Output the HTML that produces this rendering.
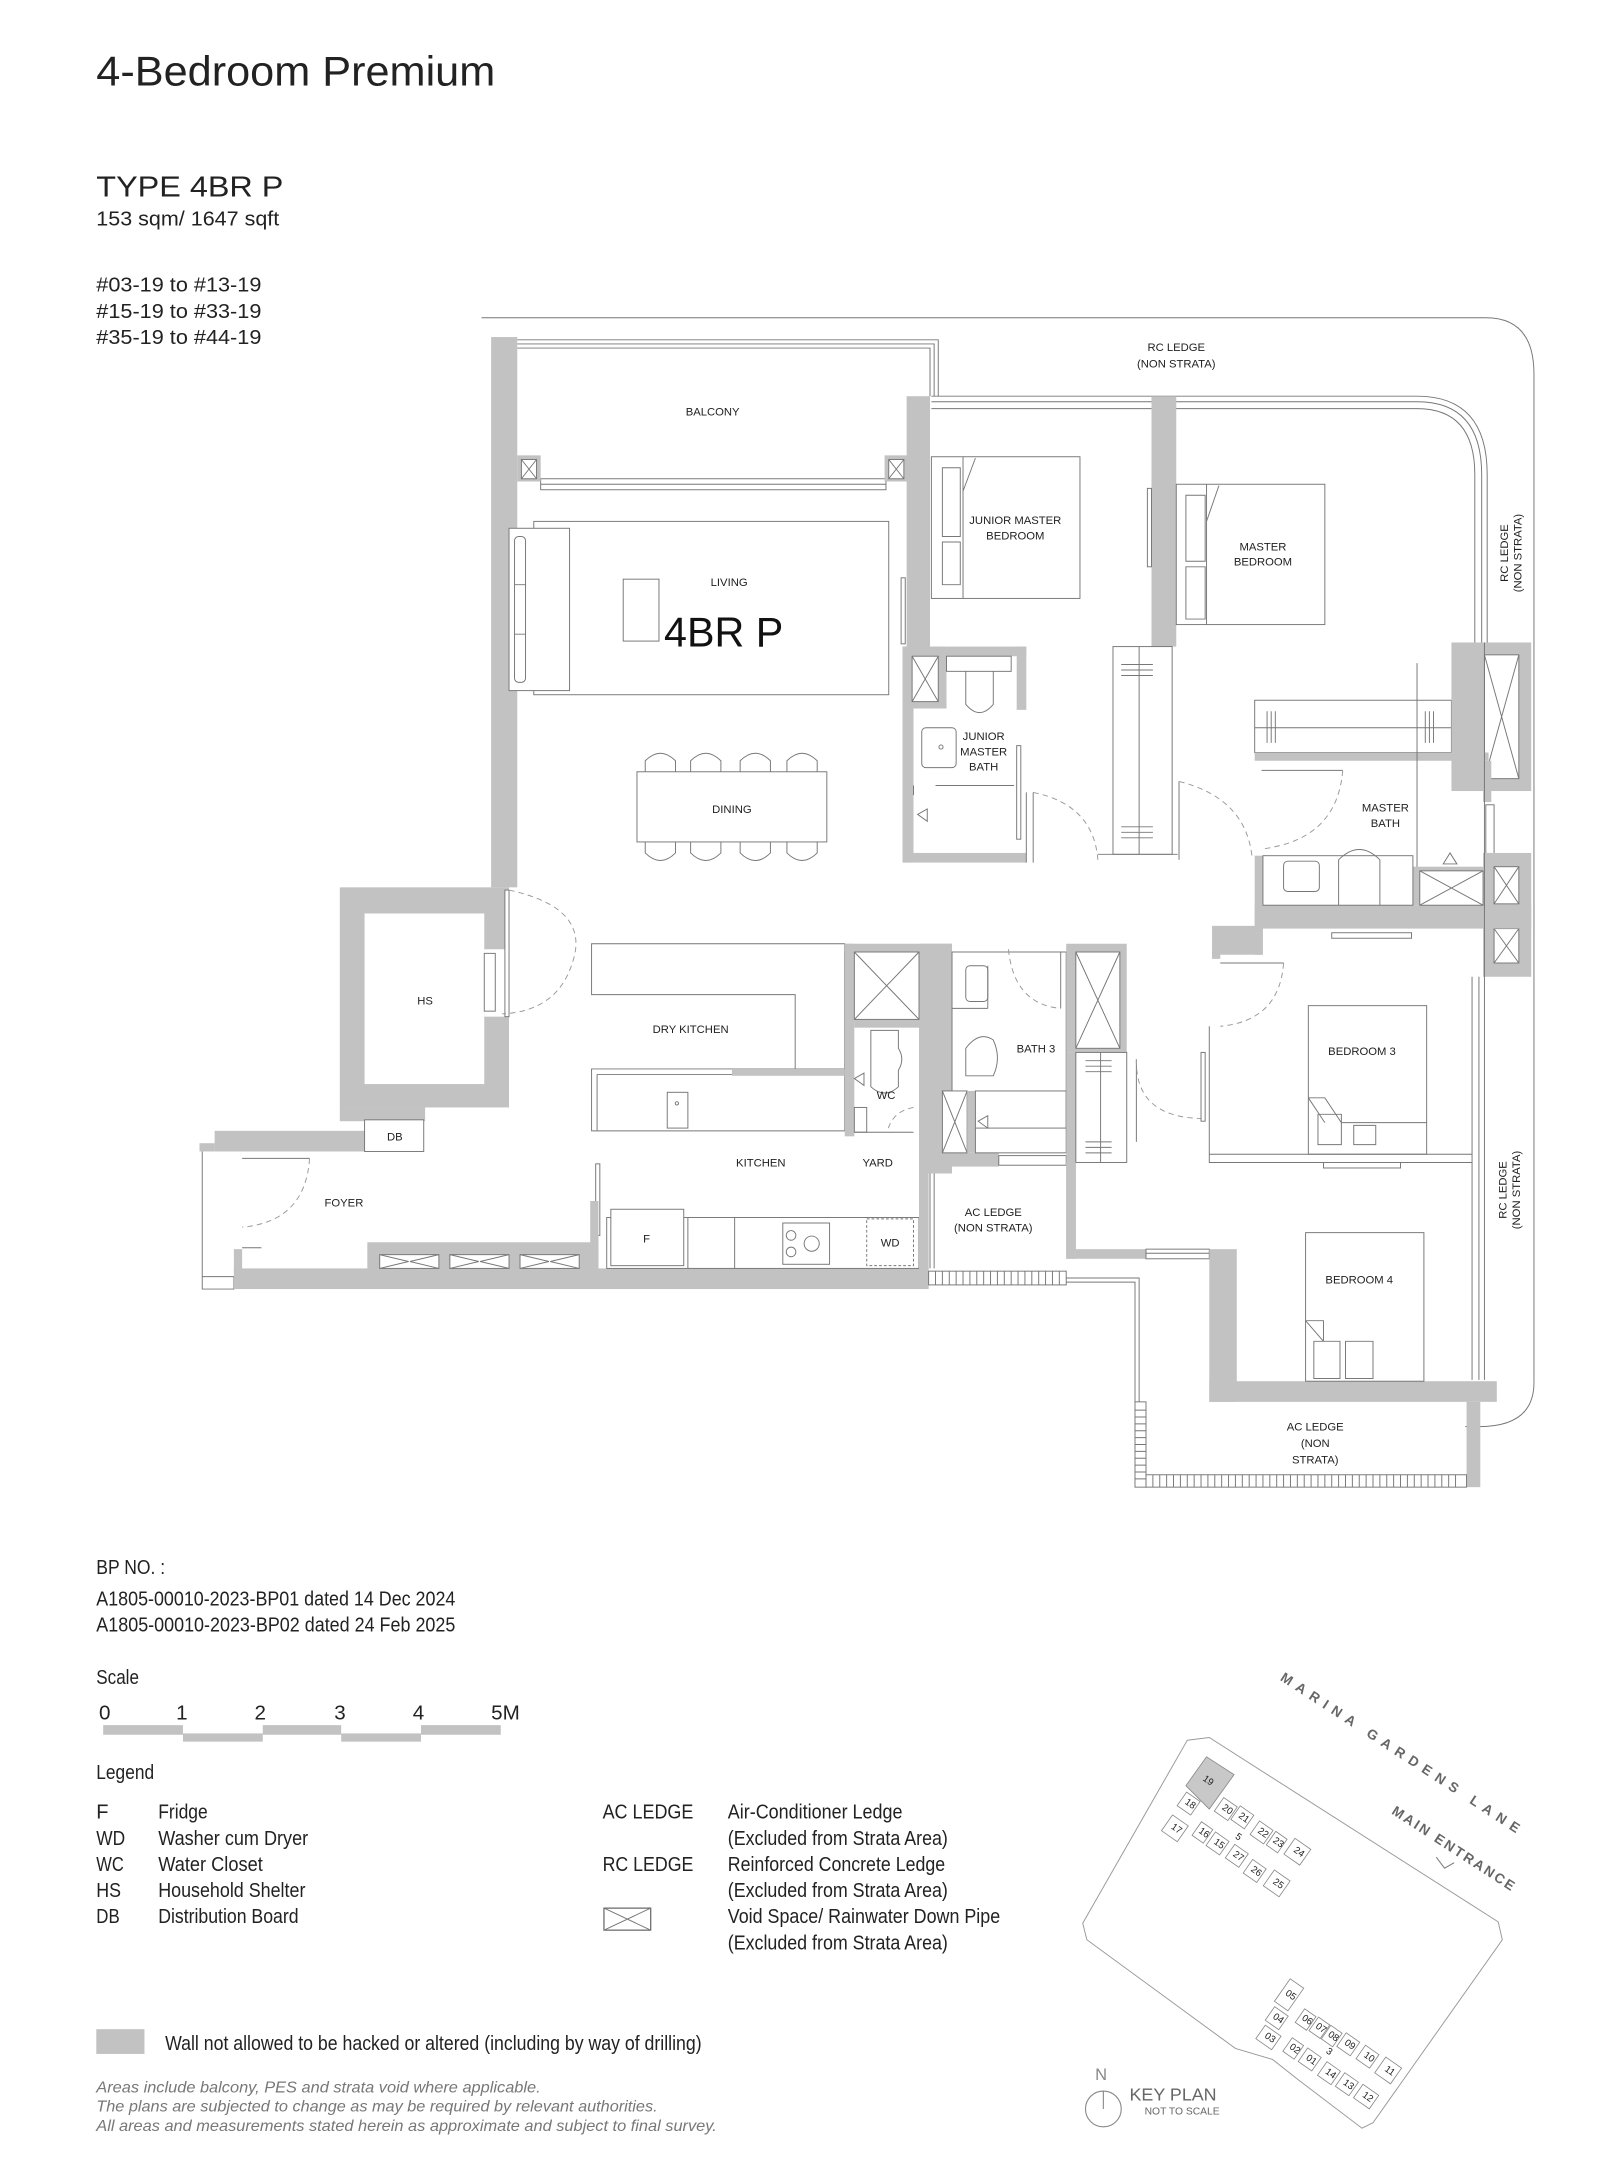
<!DOCTYPE html>
<html><head><meta charset="utf-8"><style>
html,body{margin:0;padding:0;background:#fff;}
svg{display:block;}
text{font-family:"Liberation Sans Narrow","Liberation Sans",sans-serif;fill:#222;}
.rl{font-size:8.2px;text-anchor:middle;}
.g{fill:#c2c2c2;stroke:none;}
.l{fill:none;stroke:#777;stroke-width:0.7;}
.lw{fill:#fff;stroke:#777;stroke-width:0.7;}
.d{fill:none;stroke:#999;stroke-width:0.7;stroke-dasharray:4 3;}
.kp{font-size:7px;fill:#444;text-anchor:middle;}
</style></head><body>
<svg width="1600" height="2164" viewBox="0 0 1163 1573" preserveAspectRatio="none" xmlns="http://www.w3.org/2000/svg">
<!-- Header -->
<text x="70" y="62" textLength="290" lengthAdjust="spacingAndGlyphs" style="font-family:'Liberation Sans',sans-serif;font-size:30px">4-Bedroom Premium</text>
<text x="70" y="143" textLength="136" lengthAdjust="spacingAndGlyphs" style="font-family:'Liberation Sans',sans-serif;font-size:21px">TYPE 4BR P</text>
<text x="70" y="164" textLength="133" lengthAdjust="spacingAndGlyphs" style="font-size:15px">153 sqm/ 1647 sqft</text>
<text x="70" y="212" textLength="120" lengthAdjust="spacingAndGlyphs" style="font-size:15px">#03-19 to #13-19</text>
<text x="70" y="231" textLength="120" lengthAdjust="spacingAndGlyphs" style="font-size:15px">#15-19 to #33-19</text>
<text x="70" y="250" textLength="120" lengthAdjust="spacingAndGlyphs" style="font-size:15px">#35-19 to #44-19</text>

<!-- outer RC ledge line -->
<path class="l" d="M350 231 H1080 Q1115 231 1115 272 V1005 Q1115 1037 1075 1037 H1065" />

<!-- Balcony rails -->
<path class="l" d="M376 247 H682 V288 M376 250 H679 V288 M376 253 H676 V288"/>
<rect class="lw" x="393" y="348" width="251" height="8"/>
<line class="l" x1="393" y1="352" x2="644" y2="352"/>
<rect class="g" x="357" y="245" width="19" height="400"/>
<rect class="g" x="376" y="331" width="17" height="19"/><rect class="lw" x="379" y="334" width="11" height="14"/>
<path class="l" d="M379 334 L390 348 M390 334 L379 348"/>
<rect class="g" x="643" y="331" width="17" height="19"/><rect class="lw" x="646" y="334" width="11" height="14"/>
<path class="l" d="M646 334 L657 348 M657 334 L646 348"/>
<text class="rl" x="518" y="302">BALCONY</text>
<text class="rl" x="855" y="255">RC LEDGE</text>
<text class="rl" x="855" y="267">(NON STRATA)</text>

<!-- top rails bedroom -->
<path class="l" d="M677 288 H1030 Q1081 288 1081 345 V467 M677 292 H1030 Q1077 292 1077 345 V467 M677 297 H1030 Q1072 297 1072 345 V467"/>
<text class="rl" transform="translate(1096 402) rotate(-90)">RC LEDGE</text>
<text class="rl" transform="translate(1106 402) rotate(-90)">(NON STRATA)</text>

<!-- columns -->
<rect class="g" x="659" y="288" width="17" height="182"/>
<rect class="g" x="837" y="288" width="18" height="182"/>
<rect class="lw" x="834" y="355" width="3" height="57"/>
<rect class="lw" x="655" y="420" width="3" height="48"/>

<!-- Living -->
<rect class="l" x="388" y="379" width="258" height="126"/>
<rect class="lw" x="370" y="384" width="44" height="118"/>
<rect class="l" x="374" y="390" width="8" height="106" rx="3"/>
<path class="l" d="M374 425 H382 M374 461 H382"/>
<rect class="l" x="453" y="421" width="26" height="45"/>
<text class="rl" x="530" y="426">LIVING</text>
<text x="526" y="470" style="font-family:'Liberation Sans',sans-serif;font-size:30px;text-anchor:middle;fill:#111">4BR P</text>

<!-- JM bedroom -->
<rect class="l" x="677" y="332" width="108" height="103"/>
<path class="l" d="M700 332 V435 M700 357 L709 333 M685 340 H698 V390 H685 Z M685 394 H698 V425 H685 Z"/>
<text class="rl" x="738" y="381">JUNIOR MASTER</text>
<text class="rl" x="738" y="392">BEDROOM</text>
<!-- Master bedroom -->
<rect class="l" x="855" y="352" width="108" height="102"/>
<path class="l" d="M877 352 V454 M877 379 L886 353 M862 360 H876 V408 H862 Z M862 412 H876 V450 H862 Z"/>
<text class="rl" x="918" y="400">MASTER</text>
<text class="rl" x="918" y="411">BEDROOM</text>

<!-- JM bath -->
<rect class="g" x="656" y="470" width="8" height="157"/>
<rect class="g" x="656" y="470" width="90" height="7"/>
<rect class="g" x="739" y="470" width="7" height="46"/>
<rect class="g" x="656" y="620" width="90" height="7"/>
<rect class="g" x="656" y="470" width="32" height="45"/>
<rect class="lw" x="663" y="477" width="19" height="33"/>
<path class="l" d="M663 477 L682 510 M682 477 L663 510"/>
<rect class="lw" x="688" y="477" width="47" height="11"/>
<path class="l" d="M702 488 V512 Q712 524 722 512 V488"/>
<rect class="lw" x="670" y="529" width="25" height="29" rx="3"/>
<circle class="l" cx="684" cy="543" r="1.5"/>
<path class="l" d="M680 571 H737 M664 571 V578"/>
<path class="l" d="M667 592 L674 588 L674 597 Z"/>
<text class="rl" x="715" y="538">JUNIOR</text>
<text class="rl" x="715" y="549">MASTER</text>
<text class="rl" x="715" y="560">BATH</text>
<rect class="lw" x="739" y="542" width="3" height="68"/>
<path class="l" d="M746 576 V627 M751 576 V627"/>
<path class="d" d="M751 576 Q795 585 798 625"/>
<!-- wardrobe JM -->
<rect class="l" x="809" y="470" width="43" height="151"/>
<path class="l" d="M828 470 V621 M815 483 H838 M815 487 H838 M815 491 H838 M815 601 H838 M815 605 H838 M815 609 H838"/>
<path class="l" d="M798 621 H856"/>
<path class="l" d="M857 568 V625"/>
<path class="d" d="M857 568 Q905 580 910 622"/>

<!-- Master wardrobe & right column -->
<rect class="l" x="912" y="509" width="143" height="38"/>
<path class="l" d="M912 529 H1055 M921 517 V540 M924 517 V540 M927 517 V540 M1036 517 V540 M1039 517 V540 M1042 517 V540"/>
<rect class="g" x="1055" y="467" width="58" height="108"/>
<rect class="lw" x="1079" y="476" width="25" height="90"/>
<path class="l" d="M1079 476 L1104 566 M1104 476 L1079 566"/>
<rect class="g" x="912" y="547" width="170" height="6"/>
<!-- Master bath -->
<rect class="g" x="1078" y="553" width="6" height="30"/>
<rect class="lw" x="1080" y="585" width="6" height="40"/>
<rect class="g" x="1078" y="620" width="35" height="90"/>
<rect class="lw" x="1086" y="630" width="18" height="27"/>
<path class="l" d="M1086 630 L1104 657 M1104 630 L1086 657"/>
<rect class="lw" x="1086" y="675" width="18" height="25"/>
<path class="l" d="M1086 675 L1104 700 M1104 675 L1086 700"/>
<rect class="g" x="912" y="622" width="6" height="72"/>
<rect class="g" x="912" y="658" width="201" height="17"/>
<rect class="g" x="1027" y="630" width="51" height="28"/>
<rect class="lw" x="1032" y="633" width="46" height="25"/>
<path class="l" d="M1032 633 L1078 658 M1078 633 L1032 658"/>
<rect class="l" x="918" y="622" width="109" height="36"/>
<rect class="l" x="933" y="626" width="26" height="22" rx="3"/>
<path class="l" d="M973 658 V625 Q988 610 1003 625 V658"/>
<path class="l" d="M1030 482 V630 M917 560 H976"/>
<path class="d" d="M976 560 Q972 610 918 617"/>
<path class="l" d="M1049 628 L1054 620 L1059 628 Z"/>
<text class="rl" x="1007" y="590">MASTER</text>
<text class="rl" x="1007" y="601">BATH</text>
<rect class="g" x="881" y="673" width="36" height="21"/>
<rect class="g" x="881" y="689" width="6" height="8"/>
<path class="l" d="M887 700 H933"/>
<path class="d" d="M933 700 Q930 742 887 746"/>
<rect class="lw" x="968" y="678" width="58" height="4"/>
<path class="l" d="M1070 710 V1003 M1075 710 V1003 M1079 467 V1003"/>
<text class="rl" transform="translate(1095 865) rotate(-90)">RC LEDGE</text>
<text class="rl" transform="translate(1105 865) rotate(-90)">(NON STRATA)</text>

<!-- Dining -->
<rect class="l" x="463" y="561" width="138" height="51"/>
<g class="l">
<path d="M469 561 V553 Q480 542 491 553 V561 M502 561 V553 Q513 542 524 553 V561 M538 561 V553 Q549 542 560 553 V561 M572 561 V553 Q583 542 594 553 V561"/>
<path d="M469 612 V620 Q480 631 491 620 V612 M502 612 V620 Q513 631 524 620 V612 M538 612 V620 Q549 631 560 620 V612 M572 612 V620 Q583 631 594 620 V612"/>
</g>
<text class="rl" x="532" y="591">DINING</text>

<!-- HS -->
<rect class="g" x="247" y="645" width="123" height="160"/>
<rect fill="#fff" x="265" y="664" width="87" height="124"/>
<rect fill="#fff" x="352" y="690" width="18" height="49"/>
<rect class="lw" x="352" y="693" width="8" height="42"/>
<rect class="lw" x="367" y="647" width="3" height="92"/>
<path class="d" d="M370 647 Q430 660 416 700 Q405 735 365 737"/>
<text class="rl" x="309" y="730">HS</text>
<rect class="g" x="247" y="805" width="62" height="10"/>
<rect class="g" x="156" y="822" width="109" height="15"/>
<rect class="g" x="145" y="831" width="11" height="6"/>
<rect class="lw" x="265" y="814" width="43" height="23"/>
<text class="rl" x="287" y="829">DB</text>
<!-- Foyer -->
<path class="l" d="M147 837 V937 H170 V928 H147"/>
<rect class="g" x="170" y="922" width="505" height="15"/>
<rect class="g" x="170" y="908" width="6" height="16"/>
<rect class="g" x="267" y="903" width="168" height="20"/>
<g><rect class="lw" x="276" y="912" width="43" height="10"/><rect class="lw" x="327" y="912" width="43" height="10"/><rect class="lw" x="378" y="912" width="43" height="10"/>
<path class="l" d="M276 912 L297 917 L276 922 M319 912 L298 917 L319 922 M327 912 L348 917 L327 922 M370 912 L349 917 L370 922 M378 912 L399 917 L378 922 M421 912 L400 917 L421 922"/></g>
<path class="l" d="M176 842 H225"/>
<path class="d" d="M225 842 Q222 888 176 892"/>
<path class="l" d="M176 907 H190"/>
<text class="rl" x="250" y="877">FOYER</text>
<rect class="lw" x="433" y="846" width="3" height="52"/>

<!-- Dry kitchen counters -->
<path class="l" d="M430 686 H614 V777 H578 V723 H430 Z"/>
<text class="rl" x="502" y="751">DRY KITCHEN</text>
<path class="l" d="M430 777 H614 V822 H430 Z M434 781 V822 M434 781 H614"/>
<rect class="l" x="485" y="794" width="15" height="26"/>
<circle class="l" cx="492" cy="802" r="1.2"/>
<rect class="g" x="532" y="777" width="82" height="5"/>
<!-- kitchen bottom -->
<rect class="l" x="441" y="885" width="227" height="37"/>
<rect class="lw" x="444" y="879" width="53" height="41"/>
<text class="rl" x="470" y="903">F</text>
<path class="l" d="M500 885 V922 M534 885 V922"/>
<rect class="l" x="569" y="889" width="34" height="30"/>
<circle class="l" cx="575" cy="898" r="3.5"/><circle class="l" cx="575" cy="910" r="3.5"/><circle class="l" cx="590" cy="904" r="5.5"/>
<rect x="630" y="886" width="34" height="34" fill="none" stroke="#777" stroke-width="0.7" stroke-dasharray="2 1.5"/>
<text class="rl" x="647" y="906">WD</text>
<rect class="g" x="429" y="873" width="6" height="49"/>
<text class="rl" x="553" y="848">KITCHEN</text>
<text class="rl" x="638" y="848">YARD</text>

<!-- WC / shaft -->
<rect class="g" x="614" y="686" width="78" height="6"/>
<rect class="g" x="614" y="686" width="7" height="140"/>
<rect class="g" x="621" y="741" width="47" height="6"/>
<rect class="g" x="668" y="686" width="24" height="167"/>
<rect class="g" x="668" y="853" width="7" height="70"/>
<rect class="lw" x="621" y="692" width="47" height="49"/>
<path class="l" d="M621 692 L668 741 M668 692 L621 741"/>
<path class="l" d="M633 749 H653 V762 Q658 770 653 778 V790 Q643 799 633 790 Z"/>
<text class="rl" x="644" y="799">WC</text>
<rect class="l" x="621" y="805" width="9" height="18"/>
<path class="l" d="M621 823 H664"/>
<path class="d" d="M664 805 Q648 808 645 823"/>
<path class="l" d="M621 784 L628 780 L628 789 Z"/>
<!-- Bath 3 -->
<rect class="l" x="692" y="692" width="83" height="128"/>
<rect class="l" x="702" y="702" width="16" height="26" rx="3"/>
<path class="l" d="M718 733 H692 M718 702 V733 M702 782 V762 Q712 749 722 756 Q728 769 722 782 Z"/>
<text class="rl" x="753" y="765">BATH 3</text>
<path class="d" d="M733 690 Q737 730 771 733"/>
<path class="l" d="M771 692 V733"/>
<rect class="g" x="668" y="838" width="58" height="10"/>
<rect class="lw" x="726" y="840" width="49" height="7"/>
<rect class="lw" x="685" y="793" width="18" height="45"/>
<path class="l" d="M685 793 L703 838 M703 793 L685 838"/>
<rect class="g" x="703" y="793" width="6" height="45"/>
<rect class="l" x="709" y="793" width="66" height="45"/>
<path class="l" d="M711 815 L718 811 L718 820 Z"/>
<!-- shaft right of bath3 -->
<rect class="g" x="775" y="686" width="44" height="79"/>
<rect class="lw" x="782" y="692" width="32" height="70"/>
<path class="l" d="M782 692 L814 762 M814 692 L782 762"/>
<rect class="g" x="775" y="765" width="7" height="150"/>
<rect class="l" x="782" y="765" width="37" height="80"/>
<path class="l" d="M800 765 V845 M789 771 H808 M789 775 H808 M789 779 H808 M789 830 H808 M789 834 H808 M789 838 H808"/>
<path class="l" d="M826 770 V830"/>
<path class="d" d="M826 770 Q825 812 873 813"/>
<rect class="lw" x="873" y="765" width="3" height="50"/>

<!-- Bedroom 3 -->
<path class="l" d="M879 746 V845 H1070 M879 839 H1070"/>
<rect class="l" x="951" y="731" width="86" height="108"/>
<path class="l" d="M951 798 H963 L975 816 H1037 M951 798 L963 816 M958 810 H975 V832 H958 Z M984 818 H1000 V832 H984 Z"/>
<text class="rl" x="990" y="767">BEDROOM 3</text>
<rect class="lw" x="962" y="845" width="56" height="4"/>

<!-- AC ledge middle -->
<rect class="g" x="775" y="845" width="7" height="70"/>
<rect class="g" x="782" y="908" width="51" height="7"/>
<rect class="lw" x="833" y="908" width="46" height="7"/>
<line class="l" x1="833" y1="911" x2="879" y2="911"/>
<path class="l" d="M676 853 V922 M679 853 V922"/>
<text class="rl" x="722" y="884">AC LEDGE</text>
<text class="rl" x="722" y="895">(NON STRATA)</text>
<rect class="lw" x="675" y="924" width="100" height="10"/>
<g class="l"><path d="M680 924 V934 M685 924 V934 M690 924 V934 M695 924 V934 M700 924 V934 M705 924 V934 M710 924 V934 M715 924 V934 M720 924 V934 M725 924 V934 M730 924 V934 M735 924 V934 M740 924 V934 M745 924 V934 M750 924 V934 M755 924 V934 M760 924 V934 M765 924 V934 M770 924 V934"/></g>
<path class="l" d="M775 929 H828 V1019 M775 932 H825 V1019"/>

<!-- Bedroom 4 -->
<rect class="g" x="879" y="908" width="20" height="111"/>
<rect class="g" x="879" y="1004" width="209" height="15"/>
<rect class="l" x="949" y="896" width="86" height="108"/>
<path class="l" d="M949 960 H962 V975 M949 960 L962 975 M955 975 H974 V1002 H955 Z M978 975 H998 V1002 H978 Z"/>
<text class="rl" x="988" y="933">BEDROOM 4</text>
<rect class="g" x="1066" y="1019" width="10" height="62"/>
<!-- bottom AC ledge -->
<rect class="lw" x="825" y="1019" width="8" height="62"/>
<g class="l"><path d="M825 1025 H833 M825 1030 H833 M825 1035 H833 M825 1040 H833 M825 1045 H833 M825 1050 H833 M825 1055 H833 M825 1060 H833 M825 1065 H833 M825 1070 H833 M825 1075 H833"/></g>
<rect class="lw" x="833" y="1072" width="233" height="9"/>
<g class="l"><path d="M838 1072 V1081 M843 1072 V1081 M848 1072 V1081 M853 1072 V1081 M858 1072 V1081 M863 1072 V1081 M868 1072 V1081 M873 1072 V1081 M878 1072 V1081 M883 1072 V1081 M888 1072 V1081 M893 1072 V1081 M898 1072 V1081 M903 1072 V1081 M908 1072 V1081 M913 1072 V1081 M918 1072 V1081 M923 1072 V1081 M928 1072 V1081 M933 1072 V1081 M938 1072 V1081 M943 1072 V1081 M948 1072 V1081 M953 1072 V1081 M958 1072 V1081 M963 1072 V1081 M968 1072 V1081 M973 1072 V1081 M978 1072 V1081 M983 1072 V1081 M988 1072 V1081 M993 1072 V1081 M998 1072 V1081 M1003 1072 V1081 M1008 1072 V1081 M1013 1072 V1081 M1018 1072 V1081 M1023 1072 V1081 M1028 1072 V1081 M1033 1072 V1081 M1038 1072 V1081 M1043 1072 V1081 M1048 1072 V1081 M1053 1072 V1081 M1058 1072 V1081"/></g>
<text class="rl" x="956" y="1040">AC LEDGE</text>
<text class="rl" x="956" y="1052">(NON</text>
<text class="rl" x="956" y="1064">STRATA)</text>

<!-- BP / scale / legend -->
<text x="70" y="1144" textLength="50" lengthAdjust="spacingAndGlyphs" style="font-size:15px">BP NO. :</text>
<text x="70" y="1167" textLength="261" lengthAdjust="spacingAndGlyphs" style="font-size:15px">A1805-00010-2023-BP01 dated 14 Dec 2024</text>
<text x="70" y="1186" textLength="261" lengthAdjust="spacingAndGlyphs" style="font-size:15px">A1805-00010-2023-BP02 dated 24 Feb 2025</text>
<text x="70" y="1224" textLength="31" lengthAdjust="spacingAndGlyphs" style="font-size:15px">Scale</text>
<g style="font-size:15px"><text x="72" y="1250">0</text><text x="128" y="1250">1</text><text x="185" y="1250">2</text><text x="243" y="1250">3</text><text x="300" y="1250">4</text><text x="357" y="1250">5M</text></g>
<rect class="g" x="75" y="1254" width="58" height="7"/><rect class="g" x="133" y="1260" width="58" height="6"/>
<rect class="g" x="191" y="1254" width="57" height="7"/><rect class="g" x="248" y="1260" width="58" height="6"/>
<rect class="g" x="306" y="1254" width="58" height="7"/>
<text x="70" y="1293" textLength="42" lengthAdjust="spacingAndGlyphs" style="font-size:15px">Legend</text>
<g style="font-size:14.5px">
<text x="70" y="1322">F</text><text x="115" y="1322" textLength="36" lengthAdjust="spacingAndGlyphs">Fridge</text>
<text x="70" y="1341" textLength="21" lengthAdjust="spacingAndGlyphs">WD</text><text x="115" y="1341" textLength="109" lengthAdjust="spacingAndGlyphs">Washer cum Dryer</text>
<text x="70" y="1360" textLength="20" lengthAdjust="spacingAndGlyphs">WC</text><text x="115" y="1360" textLength="76" lengthAdjust="spacingAndGlyphs">Water Closet</text>
<text x="70" y="1379" textLength="18" lengthAdjust="spacingAndGlyphs">HS</text><text x="115" y="1379" textLength="107" lengthAdjust="spacingAndGlyphs">Household Shelter</text>
<text x="70" y="1398" textLength="17" lengthAdjust="spacingAndGlyphs">DB</text><text x="115" y="1398" textLength="102" lengthAdjust="spacingAndGlyphs">Distribution Board</text>
<text x="438" y="1322" textLength="66" lengthAdjust="spacingAndGlyphs">AC LEDGE</text><text x="529" y="1322" textLength="127" lengthAdjust="spacingAndGlyphs">Air-Conditioner Ledge</text>
<text x="529" y="1341" textLength="160" lengthAdjust="spacingAndGlyphs">(Excluded from Strata Area)</text>
<text x="438" y="1360" textLength="66" lengthAdjust="spacingAndGlyphs">RC LEDGE</text><text x="529" y="1360" textLength="158" lengthAdjust="spacingAndGlyphs">Reinforced Concrete Ledge</text>
<text x="529" y="1379" textLength="160" lengthAdjust="spacingAndGlyphs">(Excluded from Strata Area)</text>
<text x="529" y="1398" textLength="198" lengthAdjust="spacingAndGlyphs">Void Space/ Rainwater Down Pipe</text>
<text x="529" y="1417" textLength="160" lengthAdjust="spacingAndGlyphs">(Excluded from Strata Area)</text>
</g>
<rect x="439" y="1387" width="34" height="16" fill="#fff" stroke="#555" stroke-width="0.8"/>
<path class="l" d="M439 1387 L473 1403 M473 1387 L439 1403"/>
<rect class="g" x="70" y="1475" width="35" height="18"/>
<text x="120" y="1490" textLength="390" lengthAdjust="spacingAndGlyphs" style="font-size:14.5px">Wall not allowed to be hacked or altered (including by way of drilling)</text>
<g style="font-size:11.5px;font-style:italic"><text x="70" y="1521" textLength="323" lengthAdjust="spacingAndGlyphs" style="fill:#777">Areas include balcony, PES and strata void where applicable.</text>
<text x="70" y="1535" textLength="408" lengthAdjust="spacingAndGlyphs" style="fill:#777">The plans are subjected to change as may be required by relevant authorities.</text>
<text x="70" y="1549" textLength="451" lengthAdjust="spacingAndGlyphs" style="fill:#777">All areas and measurements stated herein as approximate and subject to final survey.</text></g>

<!-- Key plan -->
<path d="M863 1265 L879 1263 L1089 1397 L1092 1410 L998 1543 L990 1547 L944 1512 L925 1497 L898 1489 L790 1410 L787 1398 Z" fill="none" stroke="#999" stroke-width="0.7"/>
<text transform="translate(930 1221) rotate(33)" textLength="205" lengthAdjust="spacing" style="font-family:'Liberation Sans',sans-serif;font-size:10px;font-weight:bold;fill:#666">MARINA GARDENS LANE</text>
<text transform="translate(1011 1318) rotate(33)" textLength="104" lengthAdjust="spacing" style="font-family:'Liberation Sans',sans-serif;font-size:10px;font-weight:bold;fill:#666">MAIN ENTRANCE</text>
<path d="M1044 1350 L1050 1358 L1057 1354" fill="none" stroke="#777" stroke-width="0.7"/>
<polygon points="877,1277 897,1290 879,1315 862,1298" fill="#c8c8c8" stroke="#888" stroke-width="0.6"/>
<g fill="#fff" stroke="#888" stroke-width="0.6">
<g transform="translate(854 1329) rotate(35)"><rect x="-7" y="-7" width="14" height="14"/></g>
<g transform="translate(864 1311) rotate(35)"><rect x="-6" y="-6" width="12" height="12"/></g>
<g transform="translate(891 1315) rotate(35)"><rect x="-6" y="-6" width="12" height="12"/></g>
<g transform="translate(903 1321) rotate(35)"><rect x="-6" y="-6" width="12" height="12"/></g>
<g transform="translate(917 1332) rotate(35)"><rect x="-6" y="-6" width="12" height="12"/></g>
<g transform="translate(928 1339) rotate(35)"><rect x="-5" y="-6" width="10" height="12"/></g>
<g transform="translate(943 1346) rotate(35)"><rect x="-7" y="-7" width="14" height="14"/></g>
<g transform="translate(874 1332) rotate(35)"><rect x="-5" y="-6" width="10" height="12"/></g>
<g transform="translate(885 1340) rotate(35)"><rect x="-6" y="-6" width="12" height="12"/></g>
<g transform="translate(899 1349) rotate(35)"><rect x="-6" y="-6" width="12" height="12"/></g>
<g transform="translate(912 1360) rotate(35)"><rect x="-6" y="-6" width="12" height="12"/></g>
<g transform="translate(928 1369) rotate(35)"><rect x="-7" y="-7" width="14" height="14"/></g>
<g transform="translate(937 1450) rotate(35)"><rect x="-6" y="-10" width="12" height="20"/></g>
<g transform="translate(928 1467) rotate(35)"><rect x="-6" y="-6" width="12" height="12"/></g>
<g transform="translate(922 1481) rotate(35)"><rect x="-7" y="-6" width="14" height="12"/></g>
<g transform="translate(949 1468) rotate(35)"><rect x="-5" y="-6" width="10" height="12"/></g>
<g transform="translate(959 1474) rotate(35)"><rect x="-5" y="-6" width="10" height="12"/></g>
<g transform="translate(968 1480) rotate(35)"><rect x="-5" y="-6" width="10" height="12"/></g>
<g transform="translate(980 1486) rotate(35)"><rect x="-6" y="-6" width="12" height="12"/></g>
<g transform="translate(994 1495) rotate(35)"><rect x="-6" y="-6" width="12" height="12"/></g>
<g transform="translate(1009 1505) rotate(35)"><rect x="-7" y="-7" width="14" height="14"/></g>
<g transform="translate(940 1489) rotate(35)"><rect x="-5" y="-6" width="10" height="12"/></g>
<g transform="translate(952 1497) rotate(35)"><rect x="-6" y="-6" width="12" height="12"/></g>
<g transform="translate(966 1507) rotate(35)"><rect x="-6" y="-6" width="12" height="12"/></g>
<g transform="translate(979 1515) rotate(35)"><rect x="-6" y="-6" width="12" height="12"/></g>
<g transform="translate(993 1524) rotate(35)"><rect x="-7" y="-6" width="14" height="12"/></g>
</g>
<g class="kp">
<text transform="translate(877 1296) rotate(35)">19</text><text transform="translate(854 1331) rotate(35)">17</text><text transform="translate(864 1313) rotate(35)">18</text>
<text transform="translate(891 1317) rotate(35)">20</text><text transform="translate(903 1323) rotate(35)">21</text><text transform="translate(917 1334) rotate(35)">22</text>
<text transform="translate(928 1341) rotate(35)">23</text><text transform="translate(943 1348) rotate(35)">24</text><text transform="translate(874 1334) rotate(35)">16</text>
<text transform="translate(899 1337) rotate(35)">5</text><text transform="translate(885 1342) rotate(35)">15</text><text transform="translate(899 1351) rotate(35)">27</text>
<text transform="translate(912 1362) rotate(35)">26</text><text transform="translate(928 1371) rotate(35)">25</text><text transform="translate(937 1452) rotate(35)">05</text>
<text transform="translate(928 1469) rotate(35)">04</text><text transform="translate(922 1483) rotate(35)">03</text><text transform="translate(949 1470) rotate(35)">06</text>
<text transform="translate(959 1476) rotate(35)">07</text><text transform="translate(968 1482) rotate(35)">08</text><text transform="translate(980 1488) rotate(35)">09</text>
<text transform="translate(994 1497) rotate(35)">10</text><text transform="translate(1009 1507) rotate(35)">11</text><text transform="translate(940 1491) rotate(35)">02</text>
<text transform="translate(952 1499) rotate(35)">01</text><text transform="translate(965 1493) rotate(35)">3</text><text transform="translate(966 1509) rotate(35)">14</text>
<text transform="translate(979 1517) rotate(35)">13</text><text transform="translate(993 1526) rotate(35)">12</text>
</g>
<text x="796" y="1512" style="font-size:12px;fill:#888">N</text>
<circle cx="802" cy="1533" r="13" fill="none" stroke="#888" stroke-width="0.8"/>
<line x1="802" y1="1520" x2="802" y2="1533" stroke="#888" stroke-width="0.8"/>
<text x="821" y="1527" style="font-family:'Liberation Sans',sans-serif;font-size:13px;fill:#666">KEY PLAN</text>
<text x="832" y="1537" style="font-family:'Liberation Sans',sans-serif;font-size:7.5px;fill:#666">NOT TO SCALE</text>
</svg>
</body></html>
